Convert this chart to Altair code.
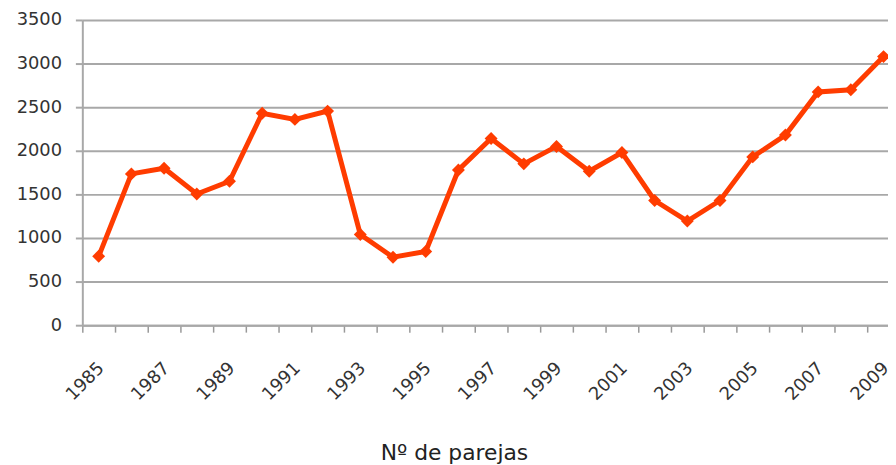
import altair as alt
import pandas as pd

years = list(range(1985, 2010))
parejas = [790, 1735, 1800, 1505, 1650, 2430, 2360, 2455, 1040, 780,
           845, 1780, 2140, 1850, 2050, 1765, 1980, 1430, 1195, 1430,
           1930, 2180, 2675, 2700, 3080]
y_ticks = [0, 500, 1000, 1500, 2000, 2500, 3000, 3500]
x_title = "Nº de parejas"

df = pd.DataFrame({"year": years, "parejas": parejas})

RED = "#FF3C00"
GRID = "#A8A8A8"
FONT = "DejaVu Sans"

base = alt.Chart(df).encode(
    x=alt.X(
        "year:O",
        scale=alt.Scale(type="band", paddingInner=0, paddingOuter=0, range=[0, 825]),
        axis=alt.Axis(
            title=x_title,
            titleFont=FONT,
            titleFontSize=22,
            titleFontWeight="normal",
            titleColor="#222222",
            titleX=375,
            titleY=136,
            titleAlign="center",
            titleBaseline="alphabetic",
            labelAngle=315,
            labelFont=FONT,
            labelFontSize=18,
            labelColor="#333333",
            labelPadding=27,
            labelOffset=-4,
            labelOverlap=False,
            labelExpr="datum.value % 2 == 1 ? datum.label : ''",
            tickBand="extent",
            tickSize=7,
            tickColor="#999999",
            tickWidth=1.5,
            domainColor=GRID,
            domainWidth=2,
            grid=False,
        ),
    ),
    y=alt.Y(
        "parejas:Q",
        scale=alt.Scale(domain=[0, 3500], nice=False, zero=True),
        axis=alt.Axis(
            title=None,
            values=y_ticks,
            format="d",
            labelFont=FONT,
            labelFontSize=18,
            labelColor="#333333",
            labelPadding=14,
            tickSize=7,
            tickColor=GRID,
            tickWidth=2,
            domainColor=GRID,
            domainWidth=2,
            grid=True,
            gridColor=GRID,
            gridWidth=2,
        ),
    ),
)

line = base.mark_line(color=RED, strokeWidth=5)
pts = base.mark_point(shape="diamond", filled=True, size=170, color=RED, opacity=1)

chart = (
    (line + pts)
    .properties(
        width=813,
        height=308,
        autosize=alt.AutoSizeParams(type="none"),
        padding={"left": 75, "top": 10, "right": 0, "bottom": 139},
        background="white",
    )
    .configure_view(strokeWidth=0)
)

chart.save("out.html", embed_options={"renderer": "svg", "actions": False})
